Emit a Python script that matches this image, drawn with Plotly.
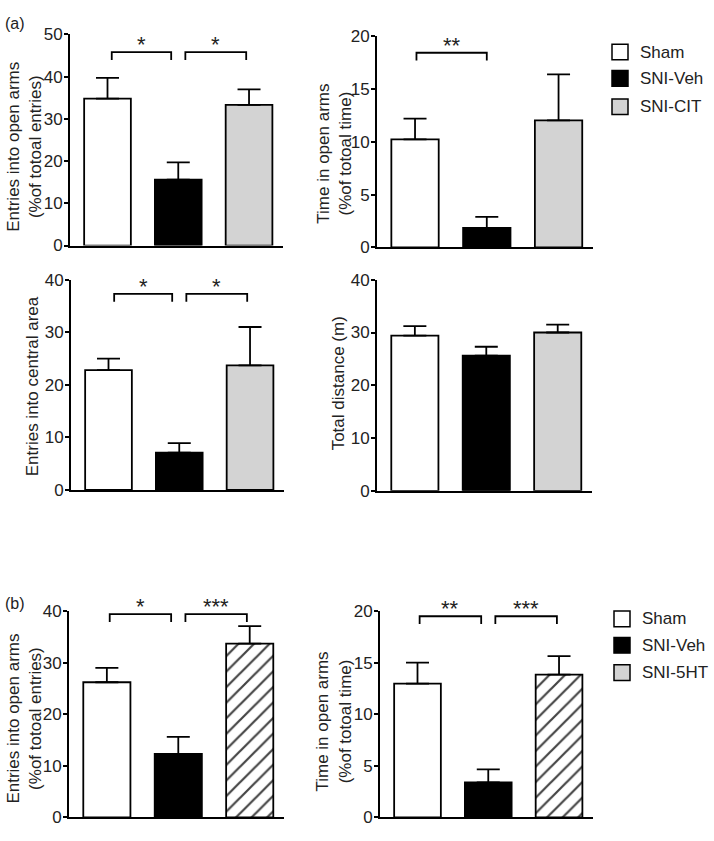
import plotly.graph_objects as go

W, H = 714, 841

groups_a = ["Sham", "SNI-Veh", "SNI-CIT"]
groups_b = ["Sham", "SNI-Veh", "SNI-5HT"]

entries_open_a = [34.8, 15.6, 33.3]
entries_open_a_err = [4.9, 4.1, 3.7]
time_open_a = [10.25, 1.85, 12.05]
time_open_a_err = [1.95, 1.05, 4.35]
central_entries_a = [22.8, 7.1, 23.7]
central_entries_a_err = [2.2, 1.8, 7.3]
total_distance_a = [29.4, 25.6, 30.0]
total_distance_a_err = [1.8, 1.7, 1.5]
entries_open_b = [26.2, 12.3, 33.7]
entries_open_b_err = [2.8, 3.3, 3.4]
time_open_b = [12.96, 3.38, 13.84]
time_open_b_err = [2.04, 1.27, 1.8]

# significance brackets: (start, end, level, label)
sig_p1 = [(0.06, 0.9, 45.8, "*"), (1.1, 1.96, 45.8, "*")]
sig_p2 = [(0.02, 1.0, 18.45, "**")]
sig_p3 = [(0.08, 0.9, 37.3, "*"), (1.1, 1.96, 37.3, "*")]
sig_p4 = []
sig_p5 = [(0.04, 0.9, 39.4, "*"), (1.1, 1.96, 39.4, "***")]
sig_p6 = [(0.03, 0.9, 19.5, "**"), (1.1, 1.97, 19.5, "***")]

TXT = "#222222"
FONT = "Liberation Sans, Arial, sans-serif"
fills = ["#ffffff", "#000000", "#d3d3d3"]
hatch_fills = ["#ffffff", "#000000", "#ffffff"]

# panel pixel boxes: (x0, x1, ytop, ybottom)
panels = [
    dict(vals=entries_open_a, err=entries_open_a_err, groups=groups_a, ymax=50, dtick=10,
         box=(70, 283, 26, 242), title="Entries into open arms<br>(%of totoal entries)",
         tpos=(25, 141), sig=sig_p1, hatch=False),
    dict(vals=time_open_a, err=time_open_a_err, groups=groups_a, ymax=20, dtick=5,
         box=(377, 593, 28, 244), title="Time in open arms<br>(%of totoal time)",
         tpos=(335, 148), sig=sig_p2, hatch=False),
    dict(vals=central_entries_a, err=central_entries_a_err, groups=groups_a, ymax=40, dtick=10,
         box=(71, 284, 277, 492), title="Entries into central area",
         tpos=(32, 386), sig=sig_p3, hatch=False),
    dict(vals=total_distance_a, err=total_distance_a_err, groups=groups_a, ymax=40, dtick=10,
         box=(377, 592, 277, 493), title="Total distance (m)",
         tpos=(338, 383), sig=sig_p4, hatch=False),
    dict(vals=entries_open_b, err=entries_open_b_err, groups=groups_b, ymax=40, dtick=10,
         box=(69, 284, 616, 827), title="Entries into open arms<br>(%of totoal entries)",
         tpos=(25, 726), sig=sig_p5, hatch=True),
    dict(vals=time_open_b, err=time_open_b_err, groups=groups_b, ymax=20, dtick=5,
         box=(380, 593, 616, 827), title="Time in open arms<br>(%of totoal time)",
         tpos=(334, 729), sig=sig_p6, hatch=True),
]

fig = go.Figure()
shapes = []
annotations = []
layout = {}

for i, p in enumerate(panels, start=1):
    sfx = "" if i == 1 else str(i)
    xa, ya = "x" + sfx, "y" + sfx
    x0, x1, yt, yb = p["box"]
    colors = hatch_fills if p["hatch"] else fills
    fig.add_trace(go.Bar(
        x=list(range(len(p["groups"]))), y=p["vals"], xaxis=xa, yaxis=ya,
        width=0.66,
        marker=dict(color=colors, line=dict(color="#000000", width=1.8),
                    pattern=dict(shape=["", "", "/" if p["hatch"] else ""],
                                 fgcolor="#000000", fgopacity=1, size=11, solidity=0.2,
                                 fillmode="overlay")),
        error_y=dict(type="data", symmetric=False, array=p["err"],
                     arrayminus=[0] * len(p["err"]), color="#000000",
                     thickness=1.8, width=11.5),
        showlegend=False, hoverinfo="skip",
    ))
    layout["xaxis" + sfx] = dict(
        domain=[x0 / W, x1 / W], anchor=ya, range=[-0.53, 2.48],
        showline=True, linecolor="#000000", linewidth=2, ticks="",
        showticklabels=False, showgrid=False, zeroline=False, fixedrange=True)
    layout["yaxis" + sfx] = dict(
        domain=[1 - yb / H, 1 - yt / H], anchor=xa, range=[0, p["ymax"]],
        tick0=0, dtick=p["dtick"], showline=True, linecolor="#000000", linewidth=2,
        ticks="outside", ticklen=4, tickwidth=2, tickcolor="#000000",
        ticklabelstandoff=-2,
        tickfont=dict(size=17, color=TXT, family=FONT),
        showgrid=False, zeroline=False, fixedrange=True)
    annotations.append(dict(
        text=p["title"], xref="paper", yref="paper", x=p["tpos"][0] / W, y=1 - p["tpos"][1] / H,
        xanchor="center", yanchor="middle", textangle=-90, showarrow=False,
        font=dict(size=17, color=TXT, family=FONT)))
    drop = 8 * p["ymax"] / (yb - yt)
    for (a, b, lvl, lab) in p["sig"]:
        path = f"M {a},{lvl - drop} L {a},{lvl} L {b},{lvl} L {b},{lvl - drop}"
        shapes.append(dict(type="path", path=path, xref=xa, yref=ya,
                           line=dict(color="#000000", width=1.8)))
        annotations.append(dict(text=lab, x=(a + b) / 2, y=lvl, xref=xa, yref=ya,
                                xanchor="center", yanchor="bottom", yshift=-7,
                                showarrow=False,
                                font=dict(size=22, color=TXT, family=FONT)))

annotations.append(dict(text="(a)", xref="paper", yref="paper", x=3 / W, y=1 - 15 / H,
                        xanchor="left", yanchor="middle", showarrow=False,
                        font=dict(size=16, color=TXT, family=FONT)))
annotations.append(dict(text="(b)", xref="paper", yref="paper", x=3 / W, y=1 - 608 / H,
                        xanchor="left", yanchor="middle", showarrow=False,
                        font=dict(size=16, color=TXT, family=FONT)))

legend_specs = [
    (groups_a, [44, 71, 100], 612),
    (groups_b, [624, 651, 679], 614),
]
for names, ycs, lx in legend_specs:
    for k, (nm, yc) in enumerate(zip(names, ycs)):
        shapes.append(dict(type="rect", xref="paper", yref="paper",
                           x0=lx / W, x1=(lx + 16) / W,
                           y0=1 - (yc + 8) / H, y1=1 - (yc - 8) / H,
                           fillcolor=fills[k], line=dict(color="#000000", width=1.5)))
        annotations.append(dict(text=nm, xref="paper", yref="paper",
                                x=(lx + 26) / W, y=1 - yc / H,
                                xanchor="left", yanchor="middle", showarrow=False,
                                font=dict(size=17, color=TXT, family=FONT)))

fig.update_layout(
    width=W, height=H, margin=dict(l=0, r=0, t=0, b=0),
    paper_bgcolor="#ffffff", plot_bgcolor="#ffffff",
    showlegend=False, shapes=shapes, annotations=annotations,
    font=dict(family=FONT, color=TXT), **layout)

fig.write_html("out.html", config={"displayModeBar": False},
               post_script="document.body.style.margin='0';document.body.style.overflow='hidden';")
